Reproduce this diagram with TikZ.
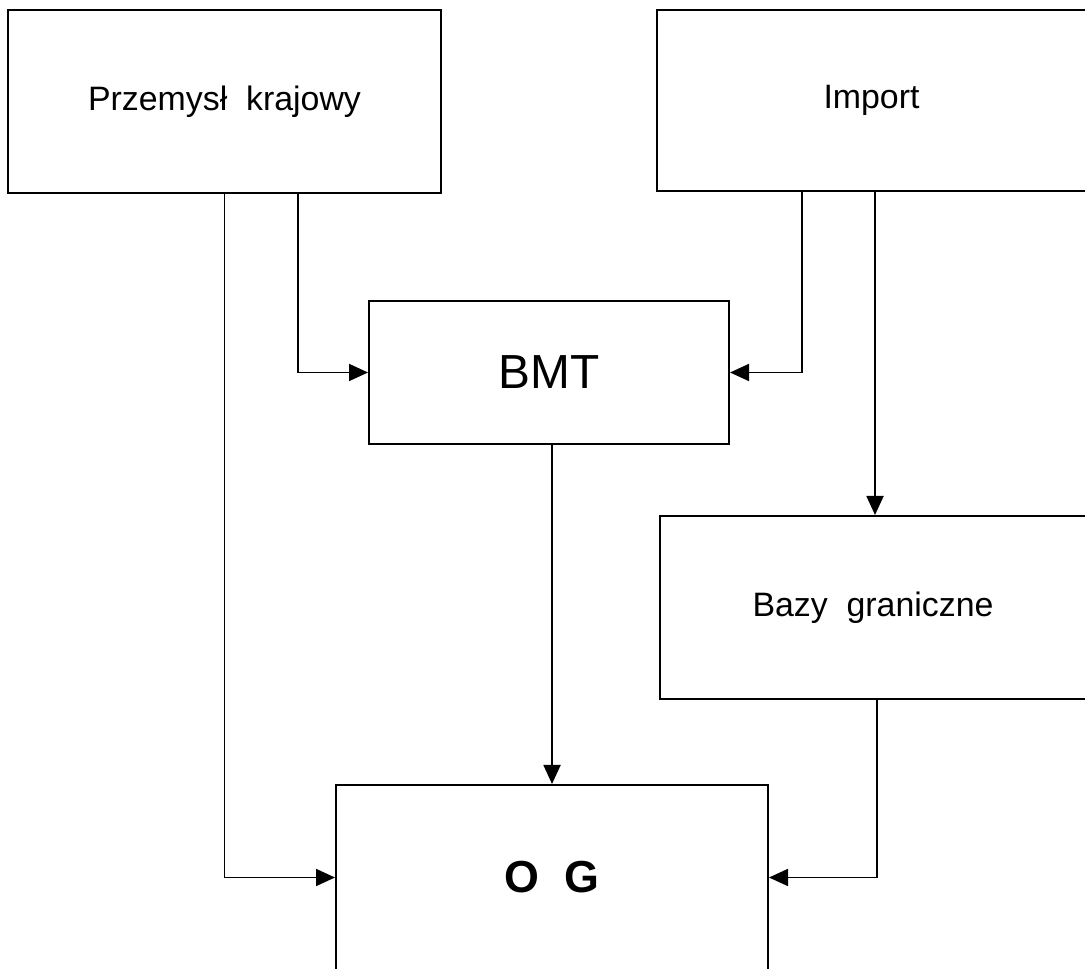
\documentclass[tikz,border=0pt]{standalone}
\usepackage{fontspec}
\setmainfont{Liberation Sans}
\usetikzlibrary{positioning,arrows.meta}

\begin{document}
\begin{tikzpicture}[x=1bp,y=1bp,>={Triangle[length=19bp,width=17bp]},line join=miter,
  blok/.style={draw,line width=2bp,inner sep=0pt},
  strz/.style={->,line width=1.8bp}]
%%
\useasboundingbox (0,0) rectangle (1085,969);
\node (prz) at (224.5bp,867.5bp) [blok,minimum width=433bp,minimum height=183bp] {\fontsize{34}{40}\selectfont Przemysł\ \ krajowy};
  \node (imp) at (871.5bp,868.5bp) [blok,minimum width=429bp,minimum height=181bp] {\fontsize{34}{40}\selectfont Import};
  \node (bmt) at (549bp,596.5bp) [blok,minimum width=360bp,minimum height=143bp] {\fontsize{48}{56}\selectfont BMT};
  \node (bazy) at (873bp,361.5bp) [blok,minimum width=426bp,minimum height=183bp] {\fontsize{34}{40}\selectfont Bazy\ \ graniczne};
  \node (og) at (552bp,91.5bp) [blok,minimum width=432bp,minimum height=185bp] {\fontsize{45}{54}\selectfont\bfseries O\ \ G};
  \draw [strz] (prz.south) |- (og.west);
  \draw [strz] ([xshift=73.5bp]prz.south) |- (bmt.west);
  \draw [strz] ([xshift=-69.5bp]imp.south) |- (bmt.east);
  \draw [strz] ([xshift=3.5bp]imp.south) -- ([xshift=3.5bp]imp.south |- bazy.north);
  \draw [strz] ([xshift=3bp]bmt.south) -- ([xshift=3bp]bmt.south |- og.north);
  \draw [strz] ([xshift=4bp]bazy.south) |- (og.east);
%
\end{tikzpicture}
\end{document}
